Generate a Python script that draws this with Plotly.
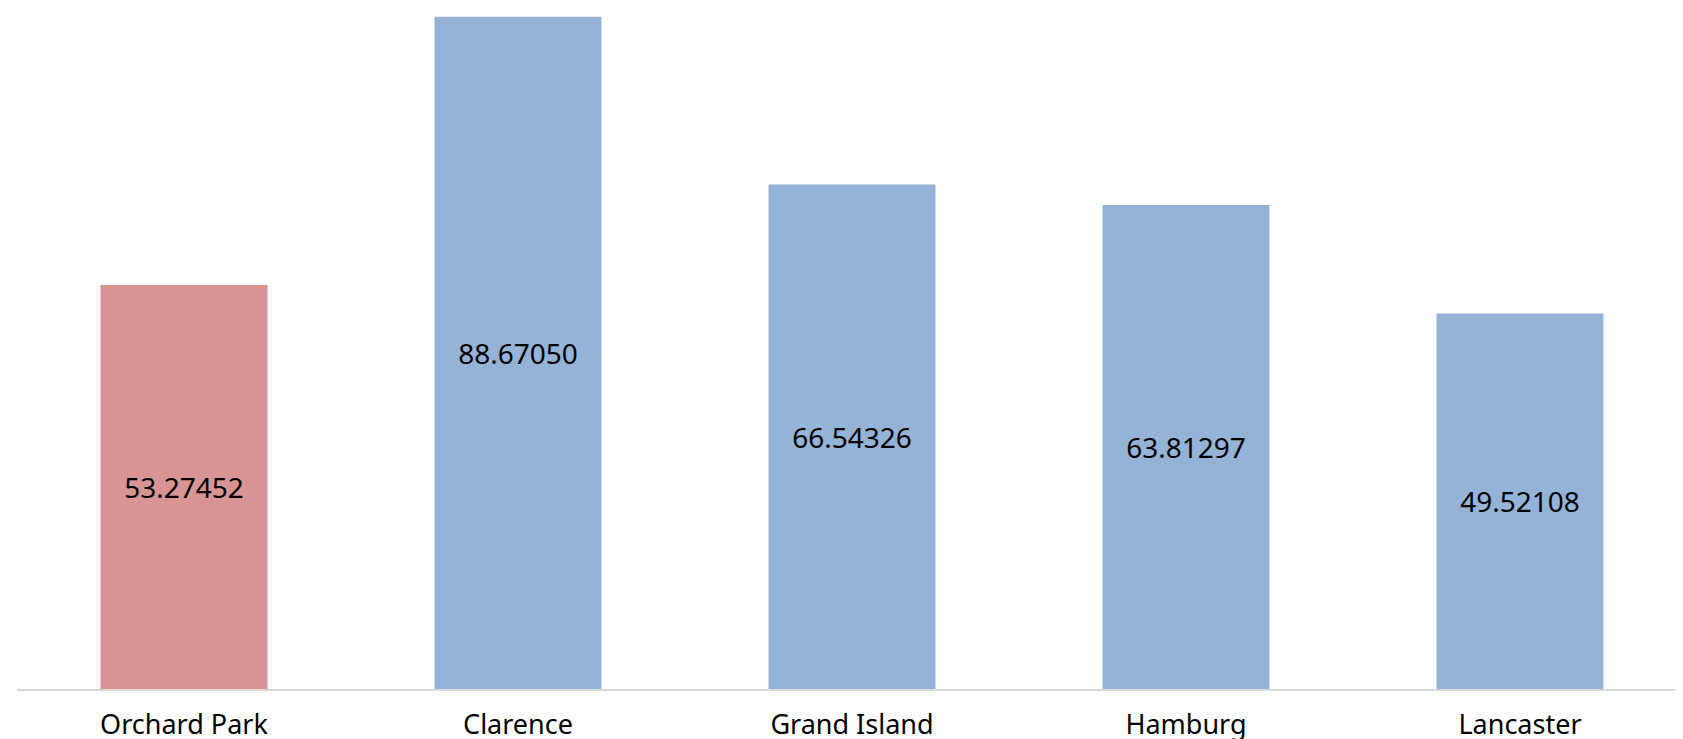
import plotly.graph_objects as go

categories = ["Orchard Park", "Clarence", "Grand Island", "Hamburg", "Lancaster"]
values = [53.27452, 88.67050, 66.54326, 63.81297, 49.52108]
colors = ["#D99594", "#95B3D7", "#95B3D7", "#95B3D7", "#95B3D7"]

fig = go.Figure(go.Bar(
    x=categories,
    y=values,
    marker=dict(color=colors, line=dict(width=0)),
    texttemplate="%{y:.5f}",
    textposition="inside",
    insidetextanchor="middle",
    textangle=0,
    textfont=dict(family="Noto Sans", size=28, color="#000000"),
    cliponaxis=False,
))

fig.update_layout(
    width=1683, height=739,
    margin=dict(l=9, r=4, t=5, b=58),
    paper_bgcolor="white", plot_bgcolor="white",
    bargap=0.5,
    showlegend=False,
    uniformtext=dict(mode=False),
    xaxis=dict(
        showline=True, linecolor="#D9D9D9", linewidth=2,
        showgrid=False, zeroline=False,
        ticks="outside", ticklen=11, tickcolor="rgba(0,0,0,0)",
        tickfont=dict(family="Noto Sans", size=27, color="#000000"),
    ),
    yaxis=dict(
        range=[0, 89.15], visible=False, showgrid=False, zeroline=False,
    ),
)

fig.write_html("out.html")
